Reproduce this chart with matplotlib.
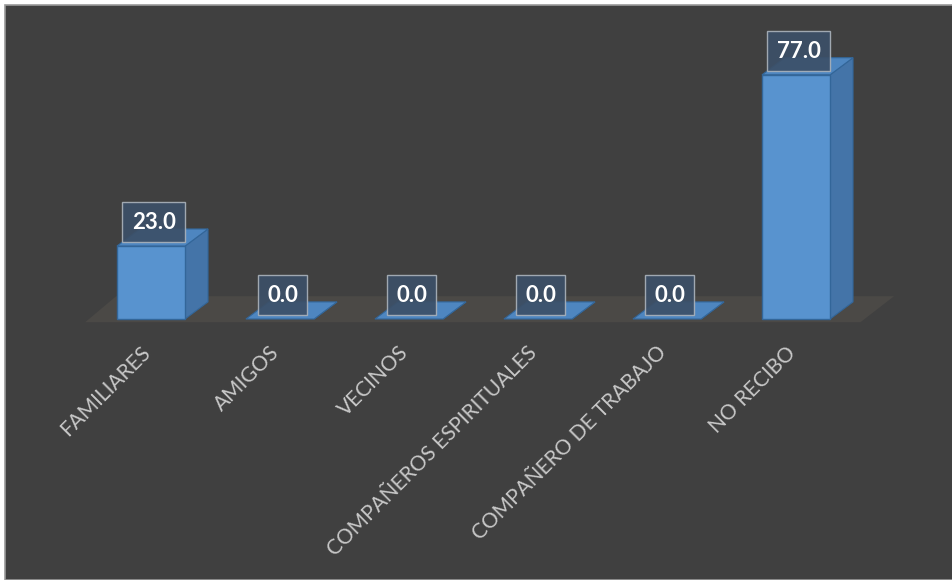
import matplotlib.pyplot as plt
from matplotlib.patches import Polygon, Rectangle

# datos de la gráfica
categorias = ['FAMILIARES', 'AMIGOS', 'VECINOS', 'COMPAÑEROS ESPIRITUALES',
              'COMPAÑERO DE TRABAJO', 'NO RECIBO']
valores = [23.0, 0.0, 0.0, 0.0, 0.0, 77.0]

# colores estilo Excel 3D
fondo = '#404040'
c_frente = '#5893cf'
c_lado = '#4474a8'
c_arriba = '#4e86c0'
c_borde = '#336699'
c_piso = '#4b4946'

# geometría de las columnas (en unidades de datos)
ancho = 0.264      # medio ancho
prof_x = 0.178     # desplazamiento de profundidad en x
prof_y = 5.4       # desplazamiento de profundidad en y

fig = plt.figure(figsize=(9.53, 5.80), dpi=100, facecolor='white')
# marco oscuro del gráfico
fig.patches.append(Rectangle((5 / 953, 0), 948 / 953, 575 / 580, transform=fig.transFigure,
                             facecolor=fondo, edgecolor='#9a9a9a', linewidth=1.2, zorder=-5))

ax = fig.add_axes([0, 0, 1, 1])
ax.set_zorder(1)
ax.set_xlim(-1.1705, 6.217)
ax.set_ylim(-82.3, 100.6)
ax.axis('off')
ax.patch.set_alpha(0)

# piso
x0, x1 = -0.51, 5.50
piso = Polygon([(x0, -1.0), (x1, -1.0), (x1 + 0.26, 7.2), (x0 + 0.24, 7.2)],
               closed=True, facecolor=c_piso, edgecolor='none', zorder=1)
ax.add_patch(piso)

for i, v in enumerate(valores):
    izq, der = i - ancho, i + ancho
    # cara lateral
    lado = Polygon([(der, 0), (der + prof_x, prof_y), (der + prof_x, v + prof_y), (der, v)],
                   closed=True, facecolor=c_lado, edgecolor=c_borde, linewidth=0.8, zorder=2)
    # cara superior
    arriba = Polygon([(izq, v), (der, v), (der + prof_x, v + prof_y), (izq + prof_x, v + prof_y)],
                     closed=True, facecolor=c_arriba, edgecolor=c_borde, linewidth=0.8, zorder=3)
    ax.add_patch(lado)
    ax.add_patch(arriba)
    if v > 0:
        ax.add_patch(Rectangle((izq, 0), 2 * ancho, v, facecolor=c_frente,
                               edgecolor=c_borde, linewidth=1.0, zorder=4))

    # etiqueta de valor
    ax.text(i + 0.02, v + 7.5, f'{v:.1f}', ha='center', va='center',
            fontsize=16, fontweight='bold', color='white', family='Lato', zorder=6,
            bbox=dict(boxstyle='square,pad=0.42', facecolor='#3c5068', alpha=0.92,
                      edgecolor='#a9b1ba', linewidth=1.0))

    # etiqueta de categoría
    ax.text(i - 0.03, -9.6, categorias[i], rotation=45, rotation_mode='anchor',
            ha='right', va='center', fontsize=15, color='#c8c8c8', family='Lato', zorder=5)

plt.savefig('out.png', dpi=100, facecolor=fig.get_facecolor())
